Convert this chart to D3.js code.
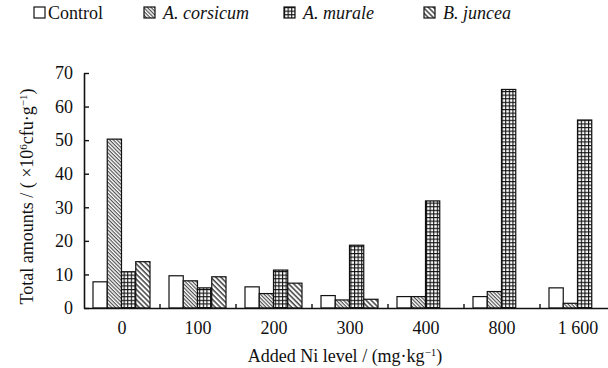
<!DOCTYPE html>
<html>
<head>
<meta charset="utf-8">
<script src="https://cdn.jsdelivr.net/npm/d3@7"></script>
<style>
  body { margin: 0; background: #fff; }
</style>
</head>
<body>
<svg id="chart" width="608" height="368" font-family="'Liberation Serif', 'Times New Roman', Times, serif"></svg>
<script>
// data
const levels = ['0', '100', '200', '300', '400', '800', '1 600'];
const seriesNames = ['Control', 'A. corsicum', 'A. murale', 'B. juncea'];
const control   = [7.8, 9.6, 6.3, 3.7, 3.4, 3.4, 6.0];
const corsicum  = [50.3, 8.1, 4.3, 2.4, 3.4, 4.9, 1.4];
const murale    = [10.8, 6.0, 11.3, 18.7, 31.9, 65.1, 56.0];
const juncea    = [13.8, 9.3, 7.4, 2.6, 0, 0, 0];
const yTicks = [0, 10, 20, 30, 40, 50, 60, 70];

const seriesValues = [control, corsicum, murale, juncea];
const fills = ['#fff', 'url(#pCors)', 'url(#pMur)', 'url(#pJun)'];

const svg = d3.select('#chart');
const margin = { top: 73, right: -8, bottom: 60, left: 84 };
const width = 608 - margin.left - margin.right;
const height = 368 - margin.top - margin.bottom;

// patterns
const defs = svg.append('defs');
const pc = defs.append('pattern').attr('id', 'pCors')
  .attr('width', 2.6).attr('height', 2.6).attr('patternUnits', 'userSpaceOnUse')
  .attr('patternTransform', 'rotate(45)');
pc.append('rect').attr('width', 2.6).attr('height', 2.6).attr('fill', '#fff');
pc.append('line').attr('x1', 0).attr('y1', 0.6).attr('x2', 2.6).attr('y2', 0.6)
  .attr('stroke', '#444').attr('stroke-width', 1.1);

const pm = defs.append('pattern').attr('id', 'pMur')
  .attr('width', 3.6).attr('height', 3.6).attr('patternUnits', 'userSpaceOnUse');
pm.append('rect').attr('width', 3.6).attr('height', 3.6).attr('fill', '#fff');
pm.append('path').attr('d', 'M0,0.5H3.6M0.5,0V3.6')
  .attr('stroke', '#111').attr('stroke-width', 1.2);

const pj = defs.append('pattern').attr('id', 'pJun')
  .attr('width', 3.6).attr('height', 3.6).attr('patternUnits', 'userSpaceOnUse')
  .attr('patternTransform', 'rotate(45)');
pj.append('rect').attr('width', 3.6).attr('height', 3.6).attr('fill', '#fff');
pj.append('line').attr('x1', 0).attr('y1', 0.8).attr('x2', 3.6).attr('y2', 0.8)
  .attr('stroke', '#333').attr('stroke-width', 1.4);

const chart = svg.append('g')
  .attr('transform', `translate(${margin.left},${margin.top})`);

// scales
const xScale = d3.scaleBand().domain(levels).range([0, width]).paddingInner(0).paddingOuter(0);
const xInner = d3.scaleBand().domain(seriesNames)
  .range([9, xScale.bandwidth() - 10]);
const yScale = d3.scaleLinear().domain([0, 70]).range([height, 0]);

// bars
seriesNames.forEach((name, si) => {
  chart.append('g').selectAll('rect')
    .data(seriesValues[si].map((v, i) => ({ level: levels[i], v })).filter(d => d.v > 0))
    .enter()
    .append('rect')
    .attr('x', d => xScale(d.level) + xInner(name))
    .attr('y', d => yScale(d.v))
    .attr('width', xInner.bandwidth())
    .attr('height', d => yScale(0) - yScale(d.v))
    .style('fill', fills[si])
    .style('stroke', '#111')
    .style('stroke-width', 1.2);
});

// axes
const yaxis = d3.axisLeft(yScale).tickValues(yTicks).tickSizeInner(-5).tickSizeOuter(0).tickPadding(11);
const yG = chart.append('g').call(yaxis).attr('font-family', null);
yG.select('.domain').attr('stroke', '#111').attr('stroke-width', 1.6);
yG.selectAll('.tick line').attr('stroke', '#111').attr('stroke-width', 1.4);
yG.selectAll('.tick text').style('font-size', '18px').attr('fill', '#111');

const xaxis = d3.axisBottom(xScale).tickSize(0).tickPadding(13);
const xG = chart.append('g').attr('transform', `translate(0,${height})`).call(xaxis).attr('font-family', null);
xG.select('.domain').attr('stroke', '#111').attr('stroke-width', 1.6);
xG.selectAll('.tick text').style('font-size', '18px').attr('fill', '#111');

// separators between groups
chart.append('g').selectAll('line')
  .data(levels.slice(1))
  .enter()
  .append('line')
  .attr('x1', d => xScale(d)).attr('x2', d => xScale(d))
  .attr('y1', height).attr('y2', height - 4)
  .attr('stroke', '#111').attr('stroke-width', 1.4);

// axis titles
svg.append('text')
  .attr('transform', `translate(33,${margin.top + height / 2 + 6}) rotate(-90)`)
  .attr('text-anchor', 'middle')
  .attr('fill', '#111')
  .style('font-size', '18px')
  .html('Total amounts / ( ×10<tspan dy="-6" font-size="11">6</tspan><tspan dy="6">cfu·g</tspan><tspan dy="-6" font-size="11">−1</tspan><tspan dy="6">)</tspan>');

svg.append('text')
  .attr('x', 345).attr('y', 362)
  .attr('text-anchor', 'middle')
  .attr('fill', '#111')
  .style('font-size', '18px')
  .html('Added Ni level / (mg·kg<tspan dy="-6" font-size="11">−1</tspan><tspan dy="6">)</tspan>');

// legend
const legendX = [34, 144, 284, 424];
const legend = svg.append('g').selectAll('g')
  .data(seriesNames)
  .enter()
  .append('g')
  .attr('transform', (d, i) => `translate(${legendX[i]},7)`);
legend.append('rect')
  .attr('width', 11).attr('height', 11)
  .style('fill', (d, i) => fills[i])
  .style('stroke', '#111').style('stroke-width', 1.2);
legend.append('text')
  .attr('x', (d, i) => i === 0 ? 14 : 19).attr('y', 12)
  .attr('fill', '#111')
  .style('font-size', '18px')
  .style('font-style', (d, i) => i === 0 ? 'normal' : 'italic')
  .text(d => d);
</script>
</body>
</html>
